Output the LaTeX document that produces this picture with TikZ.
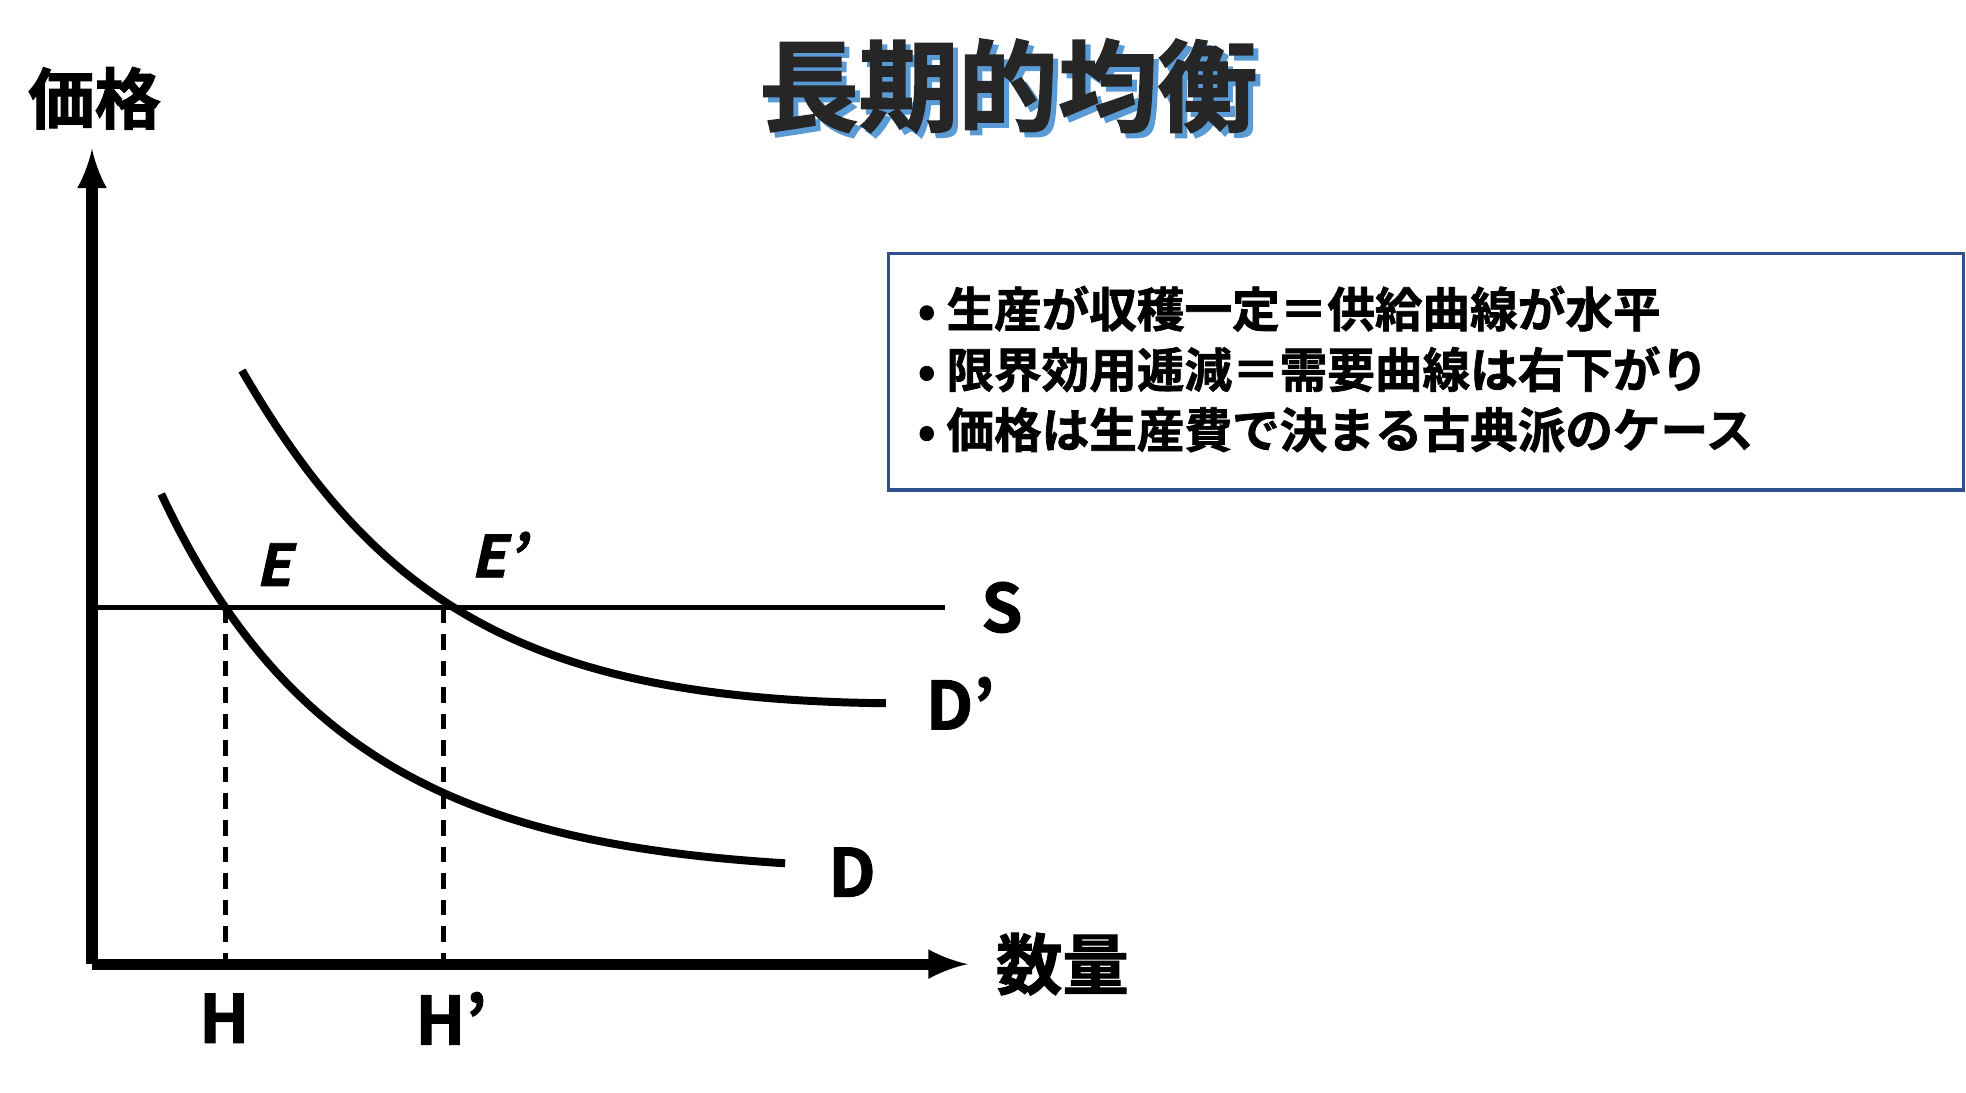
\documentclass[tikz,border=0pt]{standalone}
\usepackage{fontspec}
\setmainfont{Noto Sans CJK JP}
\newfontfamily\jpbold{Noto Sans CJK JP Bold}[FakeBold=1.5]
\newfontfamily\jpslant{Noto Sans CJK JP Bold}[FakeBold=1.5,FakeSlant=0.22]
\usetikzlibrary{positioning}
\tikzset{
  axisline/.style={line width=5pt,-latex},
  curveline/.style={line width=3.6pt},
  guide/.style={line width=2pt,dash pattern=on 7pt off 5pt},
  biglabel/.style={font=\jpbold\fontsize{30}{30}\selectfont},
  pointlabel/.style={font=\jpslant\fontsize{26}{26}\selectfont},
  bulletline/.style={font=\jpbold\fontsize{21.5}{21.5}\selectfont,anchor=west}
}
\definecolor{boxblue}{HTML}{2F4F8F}
\definecolor{shadowblue}{HTML}{5B9BD5}
\begin{document}
\begin{tikzpicture}[x=0.02cm,y=-0.02cm]
    \useasboundingbox (0,0) rectangle (1560,867);

    % Title with shadow
    \node[text=shadowblue,font=\jpbold\fontsize{45}{45}\selectfont] at (804,72) {長期的均衡};
    \node[text=black!85,font=\jpbold\fontsize{45}{45}\selectfont] (title) at (800,68) {長期的均衡};

    % Axes
    \coordinate (origin) at (73,765);
    \coordinate (ytip) at (73,118);
    \coordinate (xtip) at (768,765);
    \draw[axisline] (origin) -- (ytip);
    \draw[axisline] (origin) -- (xtip);
    \node[biglabel] (price) at (75,78) {価格};
    \node[biglabel] (qty) at (843,765) {数量};

    % Supply
    \coordinate (sstart) at (78,482);
    \coordinate (send) at (750,482);
    \draw[line width=2.2pt] (sstart) -- (send);
    \node[biglabel] (slabel) at (795,482) {S};

    % Demand curves
    \draw[curveline] (128,392) .. controls (230,610) and (380,670) .. (623,685);
    \node[biglabel] (dlabel) at (676,692) {D};
    \draw[curveline] (192,294) .. controls (300,480) and (420,555) .. (703,558);
    \node[biglabel] (dplabel) at (762,558) {D’};

    % Equilibria
    \coordinate (e) at (179,482);
    \coordinate (ep) at (352,482);
    \node[pointlabel] (elabel) at (217,448) {E};
    \node[pointlabel] (eplabel) at (395,440) {E’};
    \coordinate (h) at (179,765);
    \coordinate (hp) at (352,765);
    \draw[guide] (e) -- (h);
    \draw[guide] (ep) -- (hp);
    \node[biglabel] (hlabel) at (178,808) {H};
    \node[biglabel] (hplabel) at (358,808) {H’};

    % Note box
    \draw[boxblue,line width=1.6pt] (705,201) rectangle (1558,389);
    \node[bulletline] (n1) at (722,245) {• 生産が収穫一定＝供給曲線が水平};
    \node[bulletline] (n2) at (722,293) {• 限界効用逓減＝需要曲線は右下がり};
    \node[bulletline] (n3) at (722,341) {• 価格は生産費で決まる古典派のケース};
\end{tikzpicture}
\end{document}
